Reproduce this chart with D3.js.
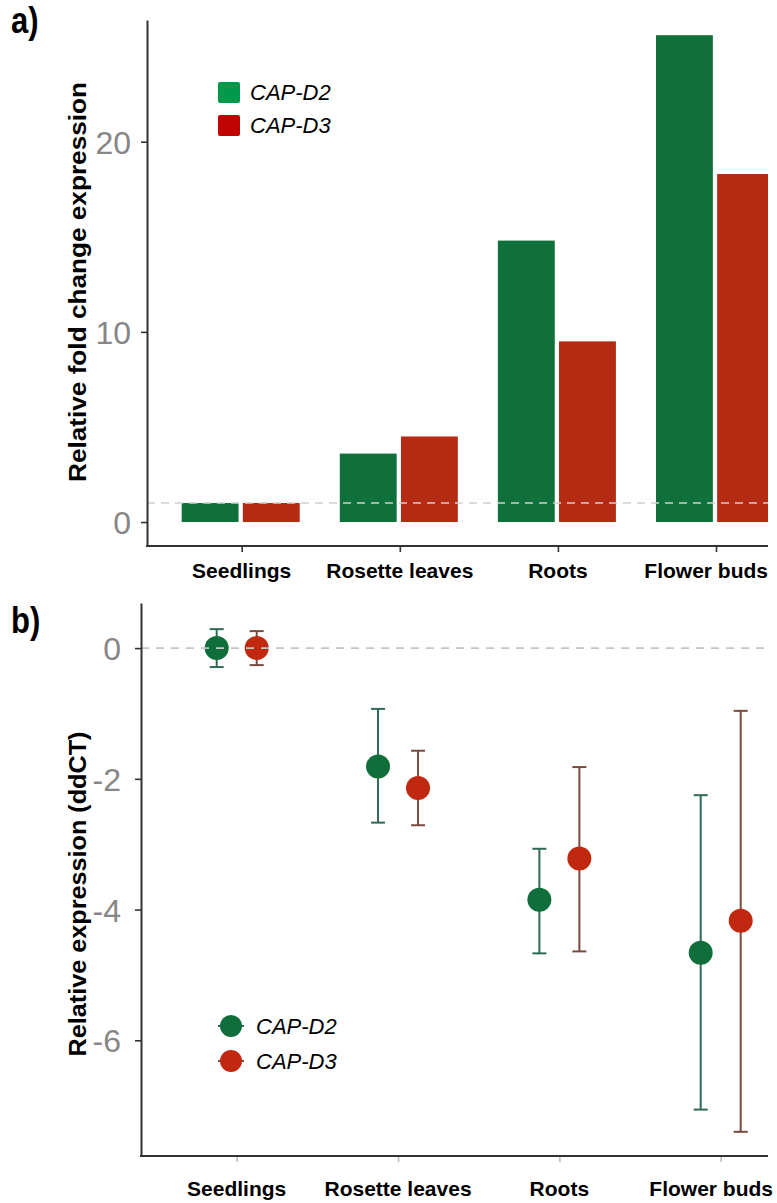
<!DOCTYPE html>
<html>
<head>
<meta charset="utf-8">
<script src="https://cdn.jsdelivr.net/npm/d3@7"></script>
<style>
	body { margin: 0; background: #fff; }
	svg { display: block; font-family: "Liberation Sans", Arial, sans-serif; }
	.tick-label { font-family: "Liberation Sans Narrow", "Liberation Sans", Arial, sans-serif; }
</style>
</head>
<body>
<svg id="chart" width="777" height="1203"></svg>
<script>
// categories / series
const tissues = ['Seedlings', 'Rosette leaves', 'Roots', 'Flower buds']
const genes = ['CAP-D2', 'CAP-D3']

// a) relative fold change expression
const foldD2 = [1, 3.6, 14.8, 25.6]
const foldD3 = [1, 4.5, 9.5, 18.3]
const foldTicks = [0, 10, 20]

// b) relative expression (ddCT), mean with lower / upper error bar ends
const ddctD2 = [0, -1.81, -3.85, -4.66]
const ddctD2Lo = [-0.29, -2.67, -4.67, -7.06]
const ddctD2Hi = [0.29, -0.93, -3.07, -2.25]
const ddctD3 = [0, -2.14, -3.22, -4.17]
const ddctD3Lo = [-0.26, -2.71, -4.64, -7.40]
const ddctD3Hi = [0.26, -1.57, -1.82, -0.96]
const ddctTicks = [0, -2, -4, -6]

const barColor = { 'CAP-D2': '#10703a', 'CAP-D3': '#b42a13' }
const keyColor = { 'CAP-D2': '#029a4a', 'CAP-D3': '#c00404' }
const dotColor = { 'CAP-D2': '#0f6e39', 'CAP-D3': '#c12810' }
const errColor = { 'CAP-D2': '#2f6a52', 'CAP-D3': '#7a4a40' }
const axisColor = '#333'
const tickColor = '#868686'
const rightEdge = 768

const svg = d3.select('#chart')

svg.append('defs').append('clipPath')
	.attr('id', 'clip')
	.append('rect')
	.attr('x', 0).attr('y', 0)
	.attr('width', rightEdge).attr('height', 1203)

function styleAxis (g) {
	g.selectAll('.domain').attr('stroke', axisColor).attr('stroke-width', 2)
	g.selectAll('.tick line').attr('stroke', axisColor).attr('stroke-width', 1.6)
}

function panelLetter (text, x, y) {
	svg.append('text')
		.attr('transform', `translate(${x},${y}) scale(1,1.2)`)
		.attr('font-size', 31)
		.attr('font-weight', 'bold')
		.text(text)
}

function xLabels (scale, y, limit) {
	svg.append('g').selectAll('text')
		.data(tissues)
		.join('text')
		.attr('y', y)
		.attr('font-size', 21)
		.attr('font-weight', 'bold')
		.attr('text-anchor', 'middle')
		.text((d) => d)
		.attr('x', function (d) {
			const w = this.getComputedTextLength()
			return Math.min(scale(d), limit - w / 2)
		})
}

function yTitle (text, x, yCenter, len) {
	svg.append('text')
		.attr('transform', `translate(${x},${yCenter}) rotate(-90)`)
		.attr('text-anchor', 'middle')
		.attr('font-size', 24)
		.attr('font-weight', 'bold')
		.attr('textLength', len)
		.attr('lengthAdjust', 'spacingAndGlyphs')
		.text(text)
}

// ---------- panel a ----------
const xA = d3.scalePoint().domain(tissues).range([241.7, 716])
const dodgeA = d3.scaleBand().domain(genes).range([-60, 58]).paddingInner(0.07)
const yA = d3.scaleLinear().domain([-1.26, 26.4]).range([546, 20])

const barData = tissues.flatMap((t, i) => [
	{ tissue: t, gene: 'CAP-D2', value: foldD2[i] },
	{ tissue: t, gene: 'CAP-D3', value: foldD3[i] }
])

const plotA = svg.append('g').attr('clip-path', 'url(#clip)')

plotA.selectAll('.bar')
	.data(barData)
	.join('rect')
	.attr('class', 'bar')
	.attr('x', (d) => xA(d.tissue) + dodgeA(d.gene))
	.attr('width', dodgeA.bandwidth())
	.attr('y', (d) => yA(d.value))
	.attr('height', (d) => yA(0) - yA(d.value))
	.attr('fill', (d) => barColor[d.gene])

plotA.append('line')
	.attr('x1', 147).attr('x2', rightEdge)
	.attr('y1', yA(1)).attr('y2', yA(1))
	.attr('stroke', '#cfcfcf')
	.attr('stroke-width', 1.6)
	.attr('stroke-dasharray', '8,6')

const yAxisA = svg.append('g')
	.attr('transform', 'translate(147,0)')
	.call(d3.axisLeft(yA).tickValues(foldTicks).tickSize(6).tickSizeOuter(0).tickPadding(10).tickFormat((d) => String(d)))
styleAxis(yAxisA)
yAxisA.selectAll('.tick text')
	.attr('class', 'tick-label')
	.attr('font-size', 32)
	.attr('fill', tickColor)
	.attr('dy', '0.36em')

const xAxisA = svg.append('g')
	.attr('transform', 'translate(0,546)')
	.call(d3.axisBottom(xA).tickSize(6).tickSizeOuter(0).tickFormat(''))
xAxisA.select('.domain').remove()
styleAxis(xAxisA)
xAxisA.append('line')
	.attr('x1', 146).attr('x2', rightEdge)
	.attr('stroke', axisColor).attr('stroke-width', 2)

xLabels(xA, 578, 768)
yTitle('Relative fold change expression', 86, 282, 400)
panelLetter('a)', 11, 33)

// legend a
const legA = svg.append('g')
legA.selectAll('rect')
	.data(genes)
	.join('rect')
	.attr('x', 218)
	.attr('y', (d, i) => 82 + i * 33)
	.attr('width', 22).attr('height', 21)
	.attr('rx', 2)
	.attr('fill', (d) => keyColor[d])
legA.selectAll('text')
	.data(genes)
	.join('text')
	.attr('x', 250)
	.attr('y', (d, i) => 100 + i * 33)
	.attr('font-size', 22)
	.attr('font-style', 'italic')
	.text((d) => d)

// ---------- panel b ----------
const xB = d3.scalePoint().domain(tissues).range([236.7, 720.7])
const dodgeB = d3.scalePoint().domain(genes).range([-20, 20])
const yB = d3.scaleLinear().domain([-7.77, 0.69]).range([1156, 603])

const dotData = tissues.flatMap((t, i) => [
	{ tissue: t, gene: 'CAP-D2', value: ddctD2[i], lo: ddctD2Lo[i], hi: ddctD2Hi[i] },
	{ tissue: t, gene: 'CAP-D3', value: ddctD3[i], lo: ddctD3Lo[i], hi: ddctD3Hi[i] }
])

const plotB = svg.append('g').attr('clip-path', 'url(#clip)')
const cx = (d) => xB(d.tissue) + dodgeB(d.gene)

const err = plotB.selectAll('.err')
	.data(dotData)
	.join('g')
	.attr('class', 'err')
	.attr('stroke', (d) => errColor[d.gene])
	.attr('stroke-width', 2)
err.append('line')
	.attr('x1', cx).attr('x2', cx)
	.attr('y1', (d) => yB(d.lo)).attr('y2', (d) => yB(d.hi))
err.append('line')
	.attr('x1', (d) => cx(d) - 7).attr('x2', (d) => cx(d) + 7)
	.attr('y1', (d) => yB(d.lo)).attr('y2', (d) => yB(d.lo))
err.append('line')
	.attr('x1', (d) => cx(d) - 7).attr('x2', (d) => cx(d) + 7)
	.attr('y1', (d) => yB(d.hi)).attr('y2', (d) => yB(d.hi))

plotB.selectAll('.dot')
	.data(dotData)
	.join('circle')
	.attr('class', 'dot')
	.attr('cx', cx)
	.attr('cy', (d) => yB(d.value))
	.attr('r', 12)
	.attr('fill', (d) => dotColor[d.gene])

plotB.append('line')
	.attr('x1', 141).attr('x2', rightEdge)
	.attr('y1', yB(0)).attr('y2', yB(0))
	.attr('stroke', '#c4c4c4')
	.attr('stroke-width', 1.6)
	.attr('stroke-dasharray', '8,7')

const yAxisB = svg.append('g')
	.attr('transform', 'translate(141,0)')
	.call(d3.axisLeft(yB).tickValues(ddctTicks).tickSize(6).tickSizeOuter(0).tickPadding(14).tickFormat((d) => String(d)))
styleAxis(yAxisB)
yAxisB.selectAll('.tick text')
	.attr('class', 'tick-label')
	.attr('font-size', 32)
	.attr('fill', tickColor)
	.attr('dy', '0.36em')

const xAxisB = svg.append('g')
	.attr('transform', 'translate(0,1156)')
	.call(d3.axisBottom(xB).tickSize(6).tickSizeOuter(0).tickFormat(''))
xAxisB.select('.domain').remove()
styleAxis(xAxisB)
xAxisB.selectAll('.tick line').attr('stroke', '#bbb')
xAxisB.append('line')
	.attr('x1', 140).attr('x2', rightEdge)
	.attr('stroke', axisColor).attr('stroke-width', 2)

xLabels(xB, 1196, 773)
yTitle('Relative expression (ddCT)', 86, 894, 325)
panelLetter('b)', 11, 633)

// legend b
const legB = svg.append('g')
const keyB = legB.selectAll('g')
	.data(genes)
	.join('g')
	.attr('transform', (d, i) => `translate(231,${1026 + i * 35})`)
keyB.append('line')
	.attr('x1', -13).attr('x2', 13)
	.attr('stroke', (d) => errColor[d])
	.attr('stroke-width', 2)
keyB.append('circle')
	.attr('r', 11)
	.attr('fill', (d) => dotColor[d])
keyB.append('text')
	.attr('x', 25)
	.attr('y', 8)
	.attr('font-size', 22)
	.attr('font-style', 'italic')
	.text((d) => d)
</script>
</body>
</html>
